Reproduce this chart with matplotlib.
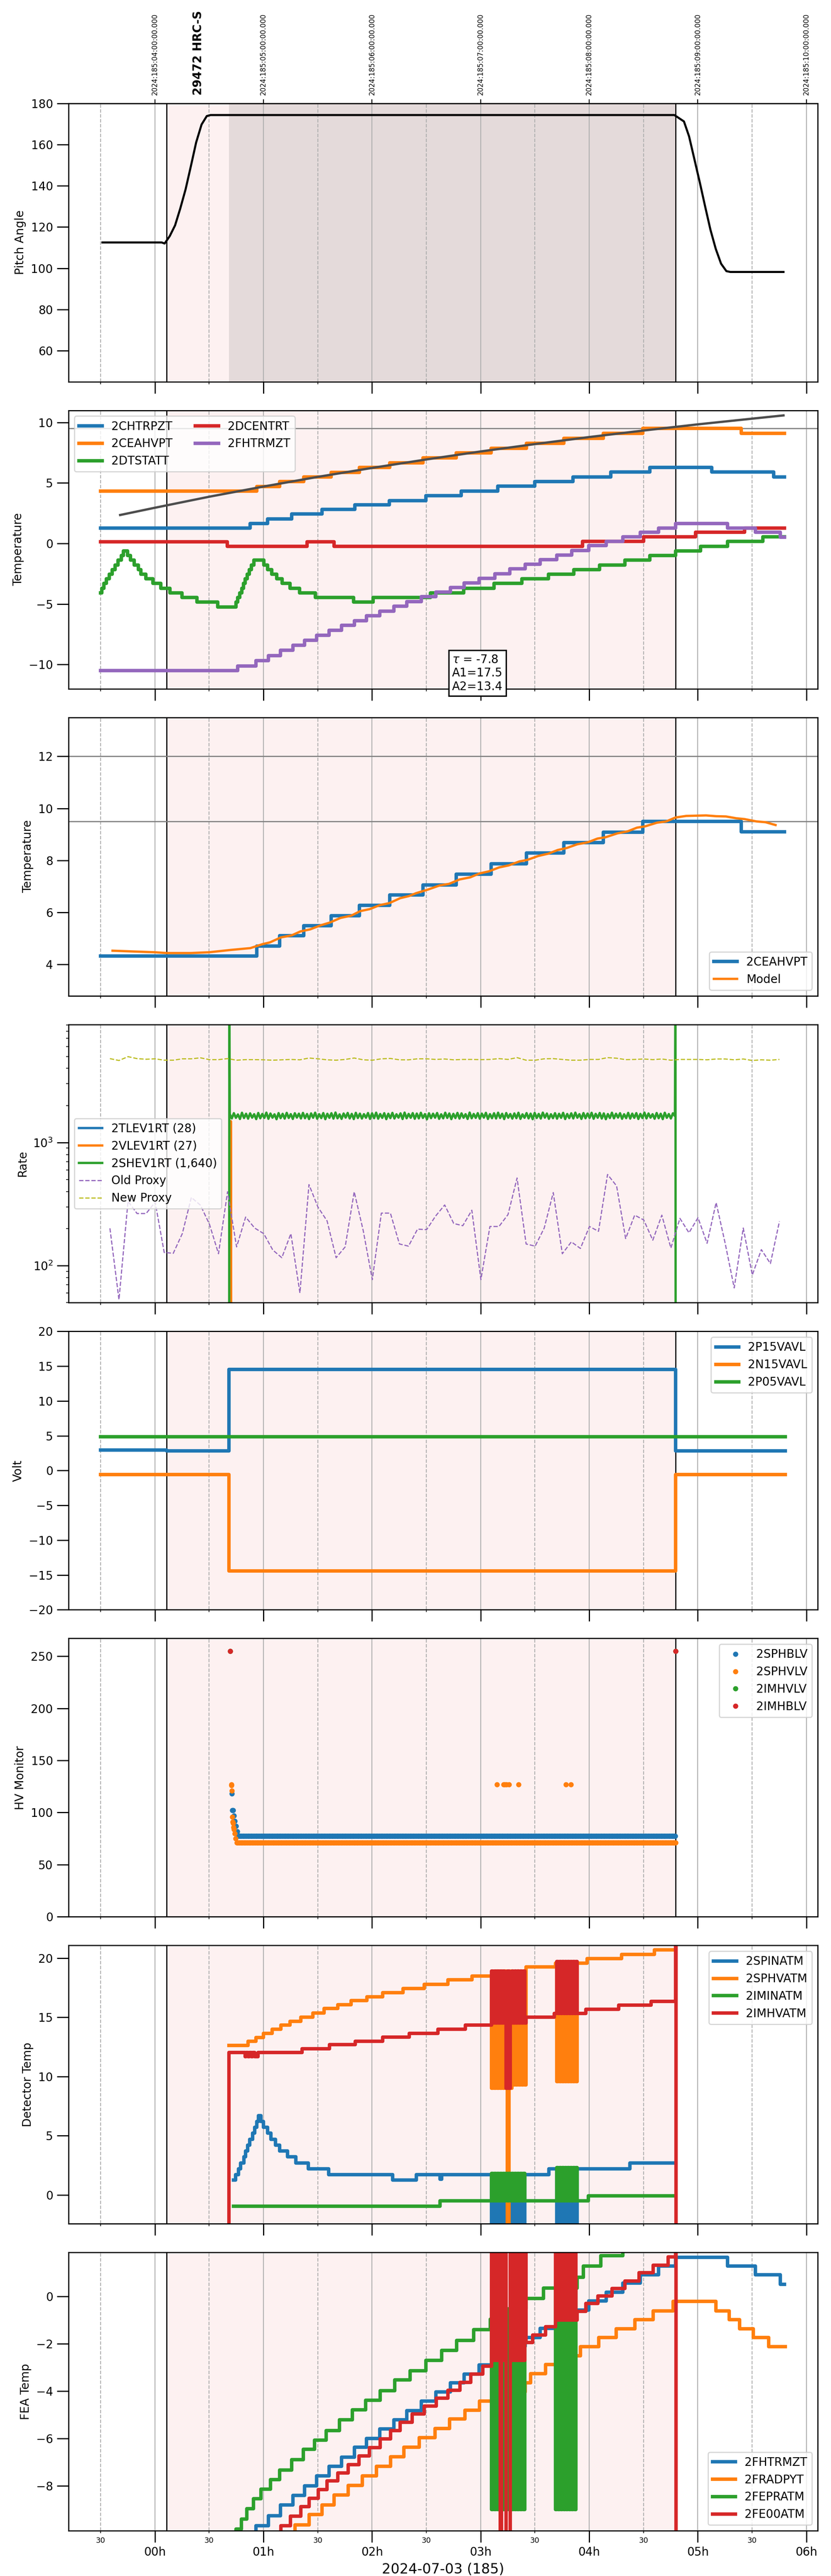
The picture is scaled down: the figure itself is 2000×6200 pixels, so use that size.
import numpy as np
import matplotlib
matplotlib.use("Agg")
import matplotlib.pyplot as plt
from matplotlib.ticker import MultipleLocator, FuncFormatter, NullLocator, FixedLocator
import matplotlib.transforms as mtransforms

# ----------------------------------------------------------------- DATA
# time axis: hours relative to 2024-07-03 00:00 (local); top axis in UTC
T_OBS_START = 0.11      # start of shaded observation interval
T_HV_ON = 0.684         # HV on / dark shaded interval start
T_OBS_END = 4.795       # end of shaded interval
TOP_LABELS = ["2024:185:04:00:00.000", "2024:185:05:00:00.000", "2024:185:06:00:00.000",
              "2024:185:07:00:00.000", "2024:185:08:00:00.000", "2024:185:09:00:00.000",
              "2024:185:10:00:00.000"]
OBS_LABEL = "29472 HRC-S"
OBS_LABEL_T = 0.40
HOUR_LABELS = ["00h", "01h", "02h", "03h", "04h", "05h", "06h"]
XLABEL = "2024-07-03 (185)"

# panel 1: pitch
PITCH_T = [-0.483, 0.063, 0.09, 0.137, 0.186, 0.234, 0.283, 0.332, 0.38, 0.43, 0.478, 0.513,
           4.785, 4.873, 4.92, 4.97, 5.02, 5.068, 5.117, 5.166, 5.215, 5.264, 5.30, 5.79]
PITCH_V = [112.5, 112.5, 112.0, 115.6, 120.8, 129.0, 138.3, 149.6, 161.0, 169.7, 173.8, 174.3,
           174.3, 171.2, 164.0, 152.7, 141.4, 130.0, 118.7, 109.4, 102.2, 98.6, 98.2, 98.2]

# panel 2: temperatures (step series)
CHTRPZT_T = [-0.5, 0.876, 1.04, 1.26, 1.54, 1.84, 2.16, 2.495, 2.82, 3.16, 3.50, 3.85, 4.20, 4.56, 5.13, 5.70, 5.80]
CHTRPZT_V = [1.26, 1.65, 2.03, 2.43, 2.80, 3.19, 3.55, 3.96, 4.34, 4.73, 5.11, 5.50, 5.90, 6.29, 5.90, 5.50, 5.50]
CEAHVPT_T = [-0.5, 0.937, 1.148, 1.372, 1.623, 1.883, 2.163, 2.47, 2.776, 3.098, 3.424, 3.766, 4.129, 4.495, 5.40, 5.80]
CEAHVPT_V = [4.33, 4.71, 5.10, 5.49, 5.88, 6.28, 6.67, 7.06, 7.47, 7.87, 8.28, 8.69, 9.09, 9.50, 9.10, 9.10]
DTSTATT_T = [-0.50, -0.49, -0.47, -0.445, -0.42, -0.395, -0.365, -0.34, -0.31, -0.29, -0.251, -0.226,
             -0.19, -0.153, -0.129, -0.085, -0.019, 0.054, 0.139, 0.248, 0.387, 0.577, 0.747, 0.764,
             0.783, 0.80, 0.815, 0.832, 0.849, 0.869, 0.888, 0.912, 1.002, 1.039, 1.075, 1.124, 1.173,
             1.246, 1.331, 1.477, 1.83, 2.01, 2.54, 2.845, 3.124, 3.38, 3.624, 3.86, 4.095, 4.33, 4.56,
             4.795, 5.027, 5.276, 5.60, 5.80]
DTSTATT_V = [-4.08, -3.70, -3.31, -2.93, -2.54, -2.16, -1.77, -1.39, -1.00, -0.62, -1.00, -1.39,
             -1.77, -2.16, -2.54, -2.93, -3.31, -3.70, -4.08, -4.47, -4.85, -5.24, -4.85, -4.47,
             -4.08, -3.70, -3.31, -2.93, -2.54, -2.16, -1.77, -1.39, -1.77, -2.16, -2.54, -2.93, -3.31,
             -3.70, -4.08, -4.47, -4.85, -4.47, -4.08, -3.70, -3.31, -2.93, -2.54, -2.16, -1.77, -1.39, -1.00,
             -0.62, -0.23, 0.16, 0.54, 0.54]
DCENTRT_T = [-0.5, 0.667, 1.40, 1.652, 3.94, 4.50, 4.98, 5.43, 5.80]
DCENTRT_V = [0.14, -0.23, 0.14, -0.23, 0.16, 0.54, 0.91, 1.28, 1.28]
FHTRMZT_T = [-0.5, 0.764, 0.93, 1.046, 1.156, 1.27, 1.38, 1.49, 1.606, 1.72, 1.837, 1.95, 2.073, 2.20,
             2.32, 2.454, 2.588, 2.722, 2.85, 2.985, 3.13, 3.27, 3.41, 3.55, 3.70, 3.84, 3.995, 4.156,
             4.31, 4.47, 4.64, 4.795, 5.276, 5.53, 5.76, 5.80]
FHTRMZT_V = [-10.50, -10.12, -9.68, -9.26, -8.81, -8.41, -8.00, -7.58, -7.18, -6.78, -6.37, -5.99, -5.60,
             -5.20, -4.82, -4.41, -4.03, -3.64, -3.27, -2.89, -2.50, -2.10, -1.73, -1.35, -0.96, -0.58,
             -0.18, 0.18, 0.56, 0.91, 1.28, 1.66, 1.28, 0.91, 0.52, 0.52]
FIT_T = [-0.32, 0.0, 0.5, 1.0, 1.5, 2.0, 2.5, 3.0, 3.5, 4.0, 4.5, 5.0, 5.5, 5.79]
FIT_V = [2.35, 2.95, 3.86, 4.70, 5.50, 6.24, 6.94, 7.60, 8.21, 8.79, 9.33, 9.84, 10.31, 10.58]
FIT_TEXT = "$\\tau$ = -7.8\nA1=17.5\nA2=13.4"
LIMIT_LINES_P2 = [9.5]
LIMIT_LINES_P3 = [12.0, 9.5]

# panel 3: model
MODEL_T = [-0.39, -0.20, 0.0, 0.11, 0.33, 0.50, 0.70, 0.88, 0.99, 1.06, 1.16, 1.26, 1.34, 1.43, 1.53,
           1.61, 1.71, 1.81, 1.89, 1.98, 2.07, 2.16, 2.26, 2.34, 2.405, 2.515, 2.624, 2.71, 2.807, 2.905,
           2.99, 3.076, 3.17, 3.26, 3.356, 3.43, 3.53, 3.624, 3.71, 3.795, 3.89, 3.99, 4.076, 4.15, 4.26,
           4.356, 4.44, 4.515, 4.624, 4.71, 4.795, 4.893, 5.076, 5.17, 5.26, 5.356, 5.43, 5.54, 5.624, 5.717]
MODEL_V = [4.53, 4.50, 4.47, 4.44, 4.44, 4.47, 4.56, 4.63, 4.78, 4.85, 5.04, 5.12, 5.27, 5.35, 5.51,
           5.61, 5.79, 5.88, 6.05, 6.13, 6.28, 6.36, 6.55, 6.63, 6.74, 6.88, 7.04, 7.10, 7.27, 7.35,
           7.50, 7.58, 7.73, 7.81, 7.96, 8.02, 8.17, 8.26, 8.40, 8.48, 8.62, 8.70, 8.84, 8.89, 9.04,
           9.12, 9.26, 9.31, 9.45, 9.50, 9.65, 9.71, 9.73, 9.70, 9.69, 9.62, 9.59, 9.50, 9.47, 9.36]

# panel 4: rates
TLEV_T = [-0.5, 0.69, 0.692, 4.795, 4.797, 5.806]
TLEV_V = [1, 1, 28, 28, 1, 1]
VLEV_T = [-0.5, 0.698, 0.700, 0.703, 4.795, 4.797, 5.806]
VLEV_V = [1, 1, 1490, 27, 27, 1, 1]
SHEV_EDGE_T = [-0.5, 0.684, 0.686]
SHEV_EDGE_V = [1, 1, 20000]
SHEV_TAIL_T = [4.795, 4.797, 5.806]
SHEV_TAIL_V = [20000, 1, 1]
SHEV_NOISE_SPAN = (0.69, 4.79)
SHEV_NOISE = [
    1702, 1568, 1731, 1585, 1690, 1552, 1744, 1579, 1712, 1561, 1725, 1590, 1698, 1548, 1737, 1572, 1706, 1583, 1748, 1557,
    1719, 1589, 1694, 1545, 1733, 1576, 1710, 1563, 1741, 1581, 1700, 1553, 1728, 1592, 1715, 1566, 1739, 1574, 1704, 1550,
    1723, 1587, 1746, 1559, 1697, 1578, 1734, 1546, 1711, 1585, 1729, 1562, 1751, 1571, 1693, 1555, 1720, 1591, 1738, 1567,
    1708, 1549, 1742, 1580, 1716, 1564, 1699, 1588, 1735, 1554, 1726, 1575, 1747, 1560, 1703, 1584, 1730, 1547, 1713, 1577,
    1740, 1565, 1696, 1590, 1724, 1551, 1749, 1573, 1707, 1586, 1732, 1558, 1718, 1569, 1743, 1582, 1701, 1544, 1727, 1576,
    1714, 1589, 1736, 1556, 1695, 1570, 1745, 1583, 1721, 1548, 1709, 1579, 1739, 1563, 1725, 1587, 1698, 1553, 1750, 1572,
    1705, 1584, 1731, 1560, 1717, 1591, 1742, 1552, 1700, 1574, 1728, 1566, 1746, 1580, 1712, 1549, 1735, 1588, 1703, 1562,
    1722, 1577, 1744, 1555, 1694, 1586, 1733, 1569, 1715, 1547, 1738, 1581, 1706, 1564, 1748, 1590, 1720, 1557, 1697, 1575,
    1730, 1561, 1711, 1585, 1741, 1550, 1704, 1578, 1726, 1567, 1747, 1589, 1699, 1554, 1734, 1573, 1718, 1583, 1743, 1558,
    1709, 1588, 1737, 1565, 1723, 1546, 1702, 1580, 1745, 1571, 1713, 1592, 1729, 1557, 1696, 1576, 1740, 1563, 1716, 1585,
    1732, 1552, 1707, 1579, 1749, 1568, 1721, 1590, 1698, 1559, 1736, 1574, 1712, 1548, 1744, 1586, 1703, 1566, 1727, 1640]
PROXY_T0 = -0.414
PROXY_STEP_MIN = 5.0
OLD_PROXY = [201, 53, 333, 265, 265, 328, 128, 126, 182, 358, 310, 217, 125, 398, 142, 248, 202, 182, 134, 116,
             182, 60, 455, 298, 231, 116, 142, 398, 192, 77, 267, 267, 150, 144, 198, 196, 253, 311, 220, 211,
             282, 77, 208, 208, 260, 515, 150, 144, 202, 392, 125, 156, 138, 208, 190, 550, 444, 166, 257, 235,
             161, 257, 139, 242, 185, 245, 152, 325, 152, 66, 202, 84, 135, 104, 229]
NEW_PROXY = [4797, 4632, 4977, 4797, 4742, 4780, 4658, 4658, 4780, 4780, 4870, 4708, 4708, 4797, 4658, 4708,
             4708, 4692, 4658, 4692, 4725, 4692, 4852, 4780, 4692, 4658, 4725, 4852, 4692, 4658, 4780, 4813,
             4692, 4692, 4780, 4780, 4725, 4764, 4692, 4725, 4725, 4708, 4725, 4797, 4725, 4888, 4658, 4658,
             4780, 4797, 4725, 4658, 4658, 4725, 4725, 4888, 4835, 4708, 4725, 4764, 4708, 4764, 4658, 4725,
             4725, 4725, 4692, 4764, 4764, 4692, 4764, 4632, 4692, 4658, 4725]

# panel 5: voltages
P15_T = [-0.5, 0.11, 0.684, 4.795, 5.806]
P15_V = [2.96, 2.85, 14.52, 2.85, 2.85]
N15_T = [-0.5, 0.684, 4.795, 5.806]
N15_V = [-0.60, -14.40, -0.60, -0.60]
P05_T = [-0.5, 5.806]
P05_V = [4.88, 4.88]

# panel 6: HV monitor (scatter)
HV_CADENCE_H = 0.0091
SPHBLV_T = [0.708, 0.713, 0.72, 0.728, 0.737, 0.747, 0.757, 0.771]
SPHBLV_V = [118, 102, 102, 97, 92, 87, 82, 78]
SPHBLV_LEVEL = (0.771, 4.795, 77.3)
SPHVLV_T = [0.705, 0.707, 0.709, 0.712, 0.716, 0.72, 0.725, 0.728, 0.735, 0.745,
            3.15, 3.21, 3.225, 3.24, 3.26, 3.35, 3.785, 3.83]
SPHVLV_V = [127, 126, 121, 96, 91, 90, 86, 84, 80, 75,
            127, 127, 127, 127, 127, 127, 127, 127]
SPHVLV_LEVEL = (0.755, 4.80, 71.1)
IMHVLV_T = [0.695, 4.795]
IMHVLV_V = [255, 255]
IMHBLV_T = [0.695, 4.795]
IMHBLV_V = [255, 255]

# glitch windows (hours)
W1 = (3.10, 3.42)
W2 = (3.69, 3.89)

# panel 7: detector temps
SPINATM_T = [0.723, 0.745, 0.77, 0.79, 0.82, 0.835, 0.855, 0.875, 0.90, 0.92, 0.94, 0.955, 0.975, 1.0,
             1.04, 1.07, 1.11, 1.15, 1.22, 1.30, 1.415, 1.60, 2.19, 2.41, 2.627, 2.64, 3.63, 4.375, 4.785]
SPINATM_V = [1.25, 1.70, 2.20, 2.70, 3.20, 3.70, 4.20, 4.70, 5.20, 5.70, 6.20, 6.70, 6.20, 5.70,
             5.20, 4.70, 4.20, 3.70, 3.20, 2.70, 2.20, 1.70, 1.25, 1.70, 1.30, 1.70, 2.20, 2.70, 2.70]
SPINATM_G1 = [-5, 1.7] * 12
SPINATM_G2 = [2.2, -5] * 8
SPHVATM_T = [0.684, 0.86, 0.93, 1.0, 1.08, 1.16, 1.245, 1.343, 1.455, 1.56, 1.685, 1.807, 1.953, 2.10,
             2.285, 2.48, 2.70, 2.92, 3.41, 3.69, 3.98, 4.30, 4.60, 4.785]
SPHVATM_V = [12.63, 12.98, 13.30, 13.65, 13.97, 14.32, 14.65, 15.00, 15.37, 15.73, 16.06, 16.39, 16.71, 17.06,
             17.44, 17.79, 18.15, 18.48, 19.24, 19.56, 19.94, 20.29, 20.69, 20.69]
SPHVATM_G1 = [9.0, 18.5, 9.0, 18.9, 9.0, 18.9, 9.0, 18.9, 9.0, 18.9, 9.0, -5.0, 18.9, 9.0,
              18.9, 9.3, 18.9, 9.3, 18.9, 9.3, 18.9, 9.3, 18.9, 9.3]
SPHVATM_G2 = [19.56, 9.56] * 8
IMINATM_T = [0.723, 2.627, 3.994, 4.785]
IMINATM_V = [-0.97, -0.52, -0.08, -0.08]
IMINATM_G1 = [1.82, -0.52] * 12
IMINATM_G2 = [-0.52, 2.3] * 8
IMHVATM_T = [0.680, 0.684, 0.83, 0.84, 0.86, 0.87, 0.89, 0.90, 0.92, 0.952, 1.357, 1.61, 1.846, 2.10,
             2.344, 2.607, 2.86, 3.115, 3.41, 3.677, 3.97, 4.27, 4.57, 4.795, 4.80]
IMHVATM_V = [-5.0, 12.03, 11.66, 12.03, 11.66, 12.03, 11.66, 12.03, 11.66, 12.03, 12.34, 12.68, 12.98, 13.32,
             13.65, 13.97, 14.32, 14.65, 15.00, 15.32, 15.66, 16.02, 16.34, 25.0, -5.0]
IMHVATM_G1 = [18.9, 14.5, 18.9, 14.5, 18.9, 14.5, 18.9, 14.5, 18.9, 14.5, 9.0, 18.9, 9.0, 14.5,
              18.9, 14.5, 18.9, 14.5, 18.9, 14.5, 18.9, 14.5, 18.9, 14.5]
IMHVATM_G2 = [15.32, 19.7] * 8

# panel 8: FEA temps
FRADPYT_T = [-0.5, 1.29, 1.42, 1.54, 1.65, 1.78, 1.91, 2.04, 2.17, 2.295, 2.436, 2.58, 2.715, 2.856, 2.99,
             3.13, 3.41, 3.46, 3.60, 3.77, 3.92, 4.09, 4.25, 4.42, 4.59, 4.775, 5.166, 5.29, 5.385, 5.51,
             5.654, 5.806]
FRADPYT_V = [-10.2, -9.65, -9.21, -8.81, -8.39, -7.98, -7.58, -7.18, -6.77, -6.37, -5.97, -5.57, -5.18, -4.81,
             -4.42, -4.04, -3.64, -3.26, -2.88, -2.50, -2.12, -1.74, -1.36, -0.98, -0.61, -0.21, -0.61, -0.98,
             -1.36, -1.74, -2.12, -2.12]
FEPRATM_T = [-0.5, 0.747, 0.796, 0.845, 0.908, 0.977, 1.064, 1.15, 1.26, 1.367, 1.47, 1.577, 1.70, 1.82,
             1.943, 2.075, 2.21, 2.35, 2.495, 2.64, 2.78, 2.935, 3.09, 3.25, 3.42, 3.58, 3.87, 3.945, 4.106,
             4.31, 5.806]
FEPRATM_V = [-10.3, -9.82, -9.41, -8.97, -8.55, -8.14, -7.73, -7.34, -6.89, -6.46, -6.06, -5.66, -5.21, -4.79,
             -4.38, -3.98, -3.53, -3.13, -2.70, -2.27, -1.85, -1.40, -0.96, -0.52, -0.09, 0.36, 0.81, 1.28, 1.73,
             2.20, 2.20]
FEPRATM_G1 = [-9.0, -0.96, -9.0, -0.96, -9.0, -0.96, -9.0, -0.96, -9.0, -0.52, -9.0, -0.52, -9.0, -0.52,
              -9.0, -0.52, -9.0, -0.52, -9.0, -0.52, -9.0, -0.52, -9.0, -0.52]
FEPRATM_G2 = [-9.0, 0.36] * 8
FE00ATM_T = [-0.5, 1.16, 1.25, 1.343, 1.42, 1.504, 1.587, 1.685, 1.78, 1.88, 1.977, 2.075, 2.17, 2.26, 2.37,
             2.48, 2.59, 2.70, 2.81, 2.91, 3.02, 3.41, 3.48, 3.60, 3.87, 3.97, 4.08, 4.21, 4.33, 4.46, 4.59,
             4.727, 4.795, 4.80]
FE00ATM_V = [-10.5, -9.68, -9.28, -8.88, -8.52, -8.16, -7.79, -7.45, -7.11, -6.73, -6.39, -6.01, -5.67, -5.32,
             -4.97, -4.63, -4.30, -3.96, -3.62, -3.28, -2.95, -1.94, -1.63, -1.27, -0.63, -0.29, 0.03, 0.34,
             0.65, 1.01, 1.32, 1.68, 5.0, -15.0]
FE00ATM_G1 = [5, -2.7, 5, -2.7, 5, -2.7, -15, 5, -2.7, 5, -15, -15, -15, 5, -2.7, 5, -2.7, 5, -2.7, 5,
              -2.7, 5, -2.7, 5]
FE00ATM_G2 = [5.0, -1.0] * 8

# ----------------------------------------------------------------- STYLE
C_BLUE, C_ORANGE, C_GREEN, C_RED, C_PURPLE, C_OLIVE = (
    "#1f77b4", "#ff7f0e", "#2ca02c", "#d62728", "#9467bd", "#bcbd22")
PINK = "#fdf1f1"
DARK = "#e4dada"
XLIM = (-0.795, 6.105)


def insert_glitches(t, v, glitches):
    t = np.asarray(t, float)
    v = np.asarray(v, float)
    for (a, b), vals in glitches:
        idx = np.searchsorted(t, b, side="right") - 1
        vb = v[idx]
        keep = (t < a) | (t > b)
        gt = np.linspace(a, b, len(vals) + 1)[:-1]
        nt = np.concatenate([t[keep], gt, [b]])
        nv = np.concatenate([v[keep], np.asarray(vals, float), [vb]])
        order = np.argsort(nt, kind="stable")
        t, v = nt[order], nv[order]
    return t, v


def level_samples(level):
    a, b, val = level
    tt = np.arange(a, b, HV_CADENCE_H)
    return tt, np.full(tt.shape, val)


fig, axes = plt.subplots(8, 1, figsize=(10, 31), dpi=200, sharex=True)
fig.subplots_adjust(left=0.0825, right=0.984, top=0.9599, bottom=0.01753, hspace=0.103)

for i, ax in enumerate(axes):
    ax.axvspan(T_OBS_START, T_OBS_END, color=PINK, zorder=0.5, lw=0)
    if i == 0:
        ax.axvspan(T_HV_ON, T_OBS_END, color=DARK, zorder=0.6, lw=0)
    ax.axvline(T_OBS_START, color="k", lw=1.0, zorder=1.6)
    ax.axvline(T_OBS_END, color="k", lw=1.0, zorder=1.6)
    ax.xaxis.set_major_locator(MultipleLocator(1.0))
    ax.xaxis.set_minor_locator(MultipleLocator(0.5))
    ax.grid(axis="x", which="major", color="#b0b0b0", ls="-", lw=0.8)
    ax.grid(axis="x", which="minor", color="#b0b0b0", ls="--", lw=0.8)
    ax.tick_params(axis="both", which="major", length=10, width=1, labelsize=10)
    for s in ax.spines.values():
        s.set_linewidth(1.0)

ax = axes[0]
ax.set_xlim(*XLIM)

# ---- panel 1: pitch
ax = axes[0]
ax.plot(PITCH_T, PITCH_V, color="k", lw=1.8)
ax.set_ylim(45, 180)
ax.set_yticks([60, 80, 100, 120, 140, 160, 180])
ax.set_ylabel("Pitch Angle")
sec = ax.secondary_xaxis("top")
sec.xaxis.set_major_locator(FixedLocator(list(range(len(TOP_LABELS)))))
sec.xaxis.set_minor_locator(NullLocator())
sec.set_xticklabels(TOP_LABELS, rotation=90, fontsize=6)
trans = mtransforms.blended_transform_factory(ax.transData, ax.transAxes)
ax.text(OBS_LABEL_T, 1.03, OBS_LABEL, transform=trans, rotation=90, ha="center", va="bottom",
        fontsize=10, fontweight="bold")

# ---- panel 2: temperatures
ax = axes[1]
for tt, vv, c, lab in [(CHTRPZT_T, CHTRPZT_V, C_BLUE, "2CHTRPZT"),
                       (CEAHVPT_T, CEAHVPT_V, C_ORANGE, "2CEAHVPT"),
                       (DTSTATT_T, DTSTATT_V, C_GREEN, "2DTSTATT"),
                       (DCENTRT_T, DCENTRT_V, C_RED, "2DCENTRT"),
                       (FHTRMZT_T, FHTRMZT_V, C_PURPLE, "2FHTRMZT")]:
    ax.plot(tt, vv, drawstyle="steps-post", color=c, lw=3, label=lab)
ax.plot(FIT_T, FIT_V, color="#4d4d4d", lw=2, zorder=3)
for y in LIMIT_LINES_P2:
    ax.axhline(y, color="gray", lw=1.0, zorder=1.7)
ax.set_ylim(-12, 11)
ax.set_yticks([-10, -5, 0, 5, 10])
ax.set_ylabel("Temperature")
ax.legend(loc="upper left", ncol=2, fontsize=10)
ax.text(0.512, -0.0135, FIT_TEXT, transform=ax.transAxes, ha="left", va="bottom", fontsize=10,
        bbox=dict(boxstyle="square,pad=0.3", fc="white", ec="black", lw=1.2), zorder=10)

# ---- panel 3: temperature + model
ax = axes[2]
ax.plot(CEAHVPT_T, CEAHVPT_V, drawstyle="steps-post", color=C_BLUE, lw=3, label="2CEAHVPT")
ax.plot(MODEL_T, MODEL_V, color=C_ORANGE, lw=2, label="Model")
for y in LIMIT_LINES_P3:
    ax.axhline(y, color="gray", lw=1.0, zorder=1.7)
ax.set_ylim(2.8, 13.5)
ax.set_yticks([4, 6, 8, 10, 12])
ax.set_ylabel("Temperature")
ax.legend(loc="lower right", fontsize=10)

# ---- panel 4: rates
ax = axes[3]
noise_t = np.linspace(SHEV_NOISE_SPAN[0], SHEV_NOISE_SPAN[1], len(SHEV_NOISE))
shev_t = np.concatenate([SHEV_EDGE_T, noise_t, SHEV_TAIL_T])
shev_v = np.concatenate([SHEV_EDGE_V, SHEV_NOISE, SHEV_TAIL_V])
proxy_t = PROXY_T0 + np.arange(len(OLD_PROXY)) * PROXY_STEP_MIN / 60.0
ax.plot(TLEV_T, TLEV_V, color=C_BLUE, lw=2, label="2TLEV1RT (28)")
ax.plot(VLEV_T, VLEV_V, color=C_ORANGE, lw=2, label="2VLEV1RT (27)")
ax.plot(shev_t, shev_v, color=C_GREEN, lw=2, label="2SHEV1RT (1,640)")
ax.plot(proxy_t, OLD_PROXY, color=C_PURPLE, lw=1, ls="--", label="Old Proxy")
ax.plot(proxy_t, NEW_PROXY, color=C_OLIVE, lw=1, ls="--", label="New Proxy")
ax.set_yscale("log")
ax.set_ylim(50, 9100)
ax.set_ylabel("Rate")
ax.legend(loc="center left", fontsize=10)

# ---- panel 5: voltages
ax = axes[4]
ax.plot(P15_T, P15_V, drawstyle="steps-post", color=C_BLUE, lw=3, label="2P15VAVL")
ax.plot(N15_T, N15_V, drawstyle="steps-post", color=C_ORANGE, lw=3, label="2N15VAVL")
ax.plot(P05_T, P05_V, drawstyle="steps-post", color=C_GREEN, lw=3, label="2P05VAVL")
ax.set_ylim(-20, 20)
ax.set_yticks([-20, -15, -10, -5, 0, 5, 10, 15, 20])
ax.set_ylabel("Volt")
ax.legend(loc="upper right", fontsize=10)

# ---- panel 6: HV monitor
ax = axes[5]
bt, bv = level_samples(SPHBLV_LEVEL)
ot, ov = level_samples(SPHVLV_LEVEL)
ax.plot(np.concatenate([SPHBLV_T, bt]), np.concatenate([SPHBLV_V, bv]), "o", ms=3.5, ls="none",
        color=C_BLUE, label="2SPHBLV")
ax.plot(np.concatenate([SPHVLV_T, ot]), np.concatenate([SPHVLV_V, ov]), "o", ms=3.5, ls="none",
        color=C_ORANGE, label="2SPHVLV")
ax.plot(IMHVLV_T, IMHVLV_V, "o", ms=3.5, ls="none", color=C_GREEN, label="2IMHVLV")
ax.plot(IMHBLV_T, IMHBLV_V, "o", ms=3.5, ls="none", color=C_RED, label="2IMHBLV")
ax.set_ylim(0, 267)
ax.set_yticks([0, 50, 100, 150, 200, 250])
ax.set_ylabel("HV Monitor")
ax.legend(loc="upper right", fontsize=10)

# ---- panel 7: detector temps
ax = axes[6]
series7 = [
    (SPINATM_T, SPINATM_V, [(W1, SPINATM_G1), (W2, SPINATM_G2)], C_BLUE, "2SPINATM"),
    (SPHVATM_T, SPHVATM_V, [(W1, SPHVATM_G1), (W2, SPHVATM_G2)], C_ORANGE, "2SPHVATM"),
    (IMINATM_T, IMINATM_V, [(W1, IMINATM_G1), (W2, IMINATM_G2)], C_GREEN, "2IMINATM"),
    (IMHVATM_T, IMHVATM_V, [(W1, IMHVATM_G1), (W2, IMHVATM_G2)], C_RED, "2IMHVATM"),
]
for tt, vv, gl, c, lab in series7:
    gt, gv = insert_glitches(tt, vv, gl)
    ax.plot(gt, gv, drawstyle="steps-post", color=c, lw=3, label=lab)
ax.set_ylim(-2.45, 21.06)
ax.set_yticks([0, 5, 10, 15, 20])
ax.set_ylabel("Detector Temp")
ax.legend(loc="upper right", fontsize=10)

# ---- panel 8: FEA temps
ax = axes[7]
series8 = [
    (FHTRMZT_T, FHTRMZT_V, [], C_BLUE, "2FHTRMZT"),
    (FRADPYT_T, FRADPYT_V, [], C_ORANGE, "2FRADPYT"),
    (FEPRATM_T, FEPRATM_V, [(W1, FEPRATM_G1), (W2, FEPRATM_G2)], C_GREEN, "2FEPRATM"),
    (FE00ATM_T, FE00ATM_V, [(W1, FE00ATM_G1), (W2, FE00ATM_G2)], C_RED, "2FE00ATM"),
]
for tt, vv, gl, c, lab in series8:
    gt, gv = insert_glitches(tt, vv, gl)
    ax.plot(gt, gv, drawstyle="steps-post", color=c, lw=3, label=lab)
ax.set_ylim(-9.9, 1.86)
ax.set_yticks([-8, -6, -4, -2, 0])
ax.set_ylabel("FEA Temp")
ax.legend(loc="lower right", fontsize=10)

ax.xaxis.set_major_formatter(FuncFormatter(
    lambda x, p: HOUR_LABELS[int(round(x))] if 0 <= int(round(x)) < len(HOUR_LABELS) else ""))
ax.xaxis.set_minor_formatter(FuncFormatter(lambda x, p: "30"))
ax.tick_params(axis="x", which="minor", labelsize=6.5)
ax.set_xlabel(XLABEL, fontsize=12)
ax.set_xlim(*XLIM)

fig.savefig("out.png", dpi=200)
